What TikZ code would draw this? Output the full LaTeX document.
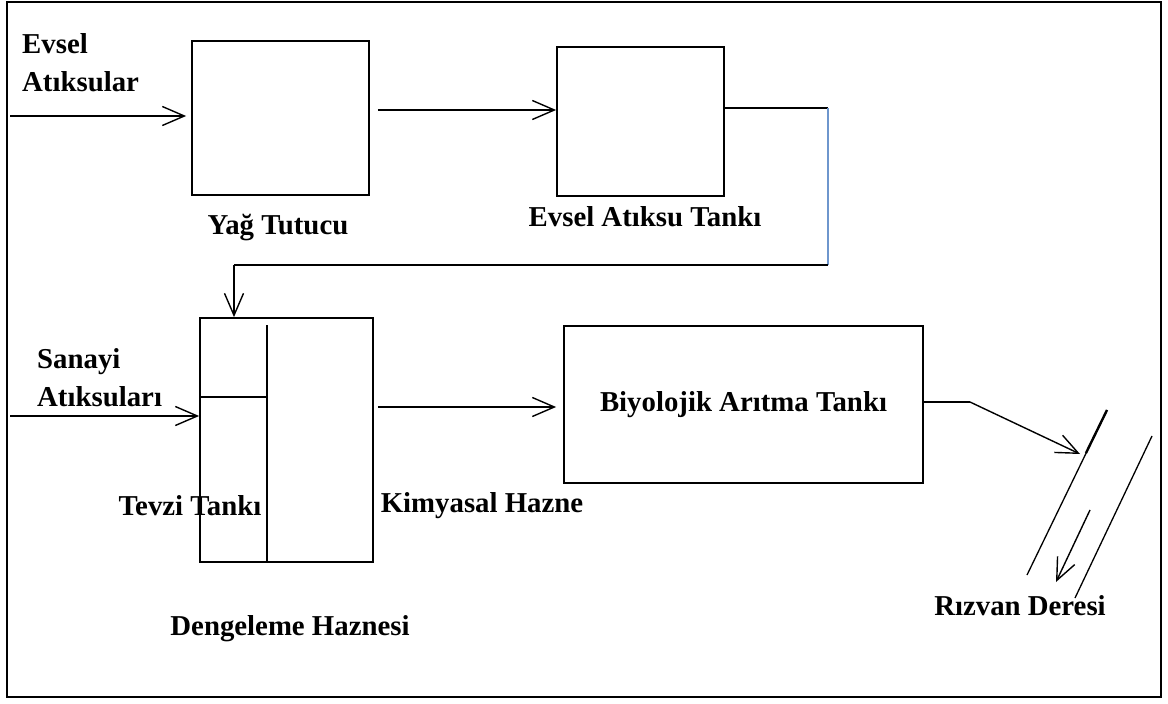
\documentclass[tikz,border=0pt]{standalone}
\usepackage{fontspec}
\setmainfont{Liberation Serif}
\usetikzlibrary{arrows.meta}
\usetikzlibrary{calc}
\definecolor{riverblue}{RGB}{110,150,205}
\newcommand{\picw}{1168}
\newcommand{\pich}{704}
\newcommand{\labelfont}{\fontsize{28.8}{38}\selectfont\bfseries}
\tikzset{
  tankbox/.style={draw, line width=1.8pt, inner sep=0pt},
  pipe/.style={line width=1.4pt},
  flow/.style={pipe, -{Straight Barb[length=22pt,width=19pt,line width=1.4pt]}},
  bank/.style={line width=1.3pt},
  tag/.style={font=\labelfont, inner sep=0pt, align=left}
}

\begin{document}
\begin{tikzpicture}[x=1pt,y=-1pt]
    \useasboundingbox (0,0) rectangle (\picw,\pich);
    % outer frame
    \draw[line width=1.5pt] (7,2) rectangle (1161,697);
    % tanks
    \node[tankbox, minimum width=177pt, minimum height=154pt] (yag) at (280.5,118) {};
    \node[tankbox, minimum width=167pt, minimum height=149pt] (evtank) at (640.5,121.5) {};
    \node[tankbox, minimum width=173pt, minimum height=244pt] (deng) at (286.5,440) {};
    \node[tankbox, minimum width=359pt, minimum height=157pt, font=\labelfont] (biyo) at (743.5,404.5)
      {Biyolojik Ar\i tma Tank\i};
    % dengeleme inner walls
    \coordinate (wall) at (267,325);
    \draw[pipe] (wall) -- (wall |- deng.south);
    \draw[pipe] (deng.west |- 0,397) -- (wall |- 0,397);
    % labels
    \node[tag, anchor=west] (evsell) at (22,63) {Evsel\\At\i ksular};
    \node[tag] (yagl) at (278,228) {Ya\u{g} Tutucu};
    \node[tag] (evtankl) at (645,217) {Evsel At\i ksu Tank\i};
    \node[tag, anchor=west] (sanl) at (37,378) {Sanayi\\At\i ksular\i};
    \node[tag] (tevzil) at (190,506) {Tevzi Tank\i};
    \node[tag] (kimyal) at (482,506) {Kimyasal Hazne};
    \node[tag] (dengl) at (290,629) {Dengeleme Haznesi};
    \node[tag] (rizvl) at (1020,606) {R\i zvan Deresi};
    % inflows
    \coordinate (evselin) at (10,116);
    \draw[flow, shorten >=5pt] (evselin) -- (evselin -| yag.west);
    \coordinate (sanin) at (10,416);
    \draw[flow] (sanin) -- (sanin -| deng.west);
    % yag tutucu to evsel atiksu tanki
    \draw[flow, shorten <=8pt] (yag.east |- 0,110) -- (evtank.west |- 0,110);
    % evsel atiksu tanki to dengeleme
    \coordinate (c1) at (828,108);
    \coordinate (c2) at (828,265);
    \coordinate (c3) at (234,265);
    \draw[pipe] (evtank.east |- c1) -- (c1);
    \draw[pipe, riverblue] (c1) -- (c2);
    \draw[pipe] (c2) -- (c3);
    \draw[flow] (c3) -- (c3 |- deng.north);
    % dengeleme to biyolojik
    \draw[flow, shorten <=4pt, shorten >=7pt] (deng.east |- 0,407) -- (biyo.west |- 0,407);
    % biyolojik to river
    \coordinate (c4) at (970,402);
    \coordinate (outlet) at (1080,454);
    \draw[pipe] (biyo.east |- c4) -- (c4);
    \draw[flow] (c4) -- (outlet);
    % river banks
    \draw[bank] (1107,410) -- (1027,575);
    \draw[line width=2.4pt] (1107,410) -- (1086,453);
    \draw[bank] (1152,436) -- (1075,598);
    \coordinate (riverup) at (1090,510);
    \coordinate (riverdown) at (1056,582);
    \draw[flow] (riverup) -- (riverdown);
\end{tikzpicture}
\end{document}
